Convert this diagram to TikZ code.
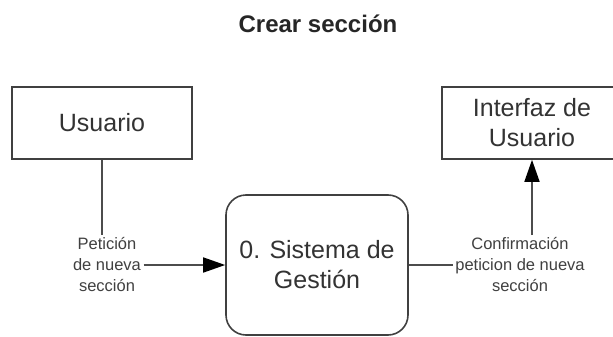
\documentclass[tikz,border=0pt]{standalone}
\usepackage{fontspec}
\setmainfont{Liberation Sans}
\usetikzlibrary{positioning,arrows.meta}

\begin{document}
\begin{tikzpicture}[x=1pt,y=-1pt,on grid,
   entidad/.style={draw=black!75,line width=1.6pt,minimum width=180pt,minimum height=72pt,
      align=center,text=black!80,font=\fontsize{25}{30}\selectfont},
   proceso/.style={entidad,rounded corners=20pt,minimum width=182pt,minimum height=140pt},
   flujo/.style={align=center,text=black!75,inner sep=2.5pt,font=\fontsize{16.5}{21}\selectfont},
   linea/.style={draw=black!70,line width=1.6pt},
   >={Triangle[length=22pt,width=15pt,color=black]}]
   \useasboundingbox (0,0) rectangle (613,337);
   \clip (0,0) rectangle (613,337);
   \node[text=black!85,font=\bfseries\fontsize{24}{28}\selectfont] (titulo) at (318,24) {Crear sección};
   \node[entidad] (usuario) at (102,123) {Usuario};
   \node[entidad,minimum width=180pt] (interfaz) at (532,123) {Interfaz de\\Usuario};
   \node[proceso] (sistema) at (317,265) {0. Sistema de\\Gestión};
   \node[flujo,below=142pt of usuario,xshift=5pt] (peticion) {Petición\\de nueva\\sección};
   \node[flujo,right=203pt of sistema] (confirmacion) {Confirmación\\peticion de nueva\\sección};
   % flujos
   \draw[linea] (usuario.south) -- (usuario.south |- peticion.north);
   \draw[linea,->] (peticion) -- (sistema);
   \draw[linea] (sistema) -- (confirmacion);
   \draw[linea,->] (confirmacion.north -| interfaz.south) -- (interfaz.south);
\end{tikzpicture}
\end{document}
